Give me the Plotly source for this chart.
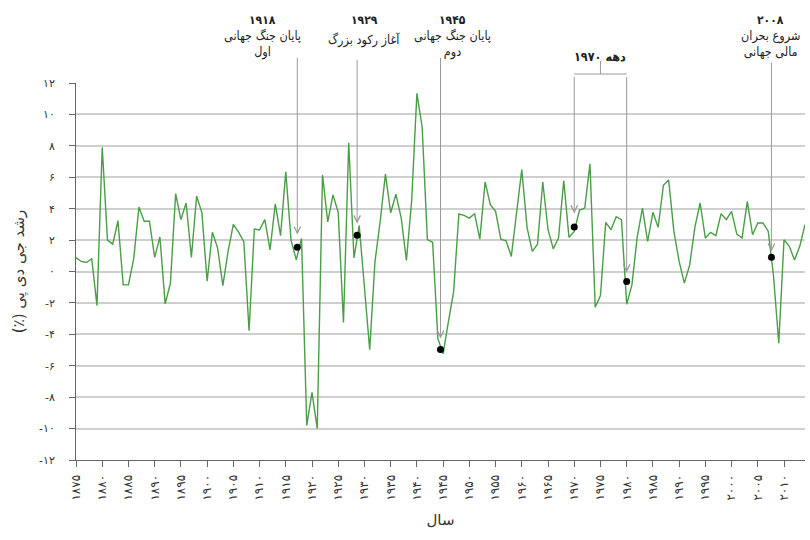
import plotly.graph_objects as go

# رشد سالانه تولید ناخالص داخلی (٪)، ۱۸۷۵ تا ۲۰۱۴
years = list(range(1875, 2015))
growth = [
    0.89, 0.64, 0.57, 0.81, -2.17, 7.9, 2.0, 1.74, 3.23, -0.85,
    -0.85, 0.8, 4.1, 3.2, 3.2, 0.9, 2.2, -2.06, -0.75, 4.96,
    3.3, 4.36, 0.9, 4.8, 3.75, -0.62, 2.5, 1.5, -0.9, 1.28,
    3.0, 2.5, 1.9, -3.77, 2.7, 2.64, 3.3, 1.38, 4.3, 2.28,
    6.34, 2.0, 0.74, 2.1, -9.8, -7.7, -10.0, 6.15, 3.16, 4.88,
    3.76, -3.25, 8.2, 0.86, 2.93, -1.0, -4.98, 0.6, 3.2, 6.2,
    3.74, 4.92, 3.42, 0.7, 4.5, 11.34, 9.2, 2.03, 1.86, -4.28,
    -5.24, -3.2, -1.3, 3.66, 3.57, 3.4, 3.68, 2.06, 5.7, 4.26,
    3.83, 2.06, 1.96, 0.96, 3.83, 6.49, 2.81, 1.28, 1.74, 5.7,
    2.66, 1.45, 2.13, 5.79, 2.17, 2.55, 3.9, 4.04, 6.85, -2.28,
    -1.53, 3.13, 2.66, 3.49, 3.3, -2.09, -0.85, 2.17, 4.04, 1.91,
    3.77, 2.81, 5.49, 5.83, 2.55, 0.64, -0.74, 0.4, 2.81, 4.36,
    2.13, 2.49, 2.28, 3.68, 3.3, 3.83, 2.38, 2.13, 4.47, 2.34,
    3.09, 3.09, 2.55, -0.3, -4.57, 2.02, 1.6, 0.74, 1.6, 2.98,
]

x_ticks = list(range(1875, 2011, 5))
x_tick_labels = [
    "۱۸۷۵", "۱۸۸۰", "۱۸۸۵", "۱۸۹۰", "۱۸۹۵", "۱۹۰۰", "۱۹۰۵", "۱۹۱۰",
    "۱۹۱۵", "۱۹۲۰", "۱۹۲۵", "۱۹۳۰", "۱۹۳۵", "۱۹۴۰", "۱۹۴۵", "۱۹۵۰",
    "۱۹۵۵", "۱۹۶۰", "۱۹۶۵", "۱۹۷۰", "۱۹۷۵", "۱۹۸۰", "۱۹۸۵", "۱۹۹۰",
    "۱۹۹۵", "۲۰۰۰", "۲۰۰۵", "۲۰۱۰",
]
y_ticks = [12, 10, 8, 6, 4, 2, 0, -2, -4, -6, -8, -10, -12]
y_tick_labels = ["۱۲", "۱۰", "۸", "۶", "۴", "۲", "۰",
                 "-۲", "-۴", "-۶", "-۸", "-۱۰", "-۱۲"]

# رویدادها
event_years = ["۱۹۱۸", "۱۹۲۹", "۱۹۴۵", "۲۰۰۸"]
event_texts = ["پایان جنگ جهانی<br>اول", "آغاز رکود بزرگ",
               "پایان جنگ جهانی<br>دوم", "شروع بحران<br>مالی جهانی"]
event_x = [1917.2, 1928.6, 1944.5, 2007.6]
event_label_x = [1910.5, 1930.0, 1946.8, 2007.4]
event_arrow_top = [13.7, 13.55, 13.7, 13.4]
event_arrow_tip = [2.35, 3.06, -4.27, 1.27]
event_dot = [1.55, 2.3, -4.97, 0.9]

decade_label = "دهه ۱۹۷۰"
decade_x = [1970.0, 1980.0]
decade_arrow_tip = [3.7, -0.06]
decade_dot = [2.83, -0.64]
decade_top = 12.48

font = "DejaVu Sans"
cond = "DejaVu Sans Condensed, DejaVu Sans"
GRAY = "#9a9a9a"

fig = go.Figure()
fig.add_trace(go.Scatter(x=years, y=growth, mode="lines",
                         line=dict(color="#4a9e46", width=1.4),
                         hoverinfo="skip", showlegend=False))
fig.add_trace(go.Scatter(x=event_x + decade_x, y=event_dot + decade_dot,
                         mode="markers", marker=dict(color="black", size=7),
                         hoverinfo="skip", showlegend=False, cliponaxis=False))

annotations = []
for yr, txt, x, lx, top, tip, in zip(event_years, event_texts, event_x,
                                      event_label_x, event_arrow_top, event_arrow_tip):
    annotations.append(dict(x=x, y=tip, ax=x, ay=top, xref="x", yref="y",
                            axref="x", ayref="y", text="", showarrow=True,
                            arrowhead=5, arrowsize=1.3, arrowwidth=1,
                            arrowcolor=GRAY, standoff=0))
    annotations.append(dict(x=lx, y=1.19, xref="x", yref="paper",
                            text="<b>" + yr + "</b>", showarrow=False,
                            font=dict(family=cond, size=12, color="#222")))
    one_line = "<br>" not in txt
    annotations.append(dict(x=lx, y=1.114 if one_line else 1.150, xref="x",
                            yref="paper", yanchor="middle" if one_line else "top",
                            text=txt, showarrow=False,
                            font=dict(family=cond, size=12.5, color="#222")))

for x, tip in zip(decade_x, decade_arrow_tip):
    annotations.append(dict(x=x, y=tip, ax=x, ay=decade_top, xref="x", yref="y",
                            axref="x", ayref="y", text="", showarrow=True,
                            arrowhead=5, arrowsize=1.3, arrowwidth=1,
                            arrowcolor=GRAY, standoff=0))
annotations.append(dict(x=sum(decade_x) / 2, y=1.0955, xref="x", yref="paper",
                        text="<b>" + decade_label + "</b>", showarrow=False,
                        font=dict(family=cond, size=12.5, color="#222")))

mid = sum(decade_x) / 2
shapes = [
    dict(type="line", xref="x", yref="paper", x0=decade_x[0], x1=decade_x[1],
         y0=1.0239, y1=1.0239, line=dict(color=GRAY, width=1)),
    dict(type="line", xref="x", yref="paper", x0=mid, x1=mid,
         y0=1.0239, y1=1.0584, line=dict(color=GRAY, width=1)),
]

fig.update_layout(
    width=810, height=540, autosize=False,
    margin=dict(l=76, r=5, t=83, b=80),
    plot_bgcolor="white", paper_bgcolor="white",
    font=dict(family=font, size=11, color="#333"),
    annotations=annotations, shapes=shapes,
    xaxis=dict(range=[1875, 2014], tickvals=x_ticks, ticktext=x_tick_labels,
               tickangle=-90, ticks="outside", ticklen=6, tickcolor="#666",
               showline=True, linecolor="#666", linewidth=1, showgrid=False,
               zeroline=False, tickfont=dict(size=12, color="#333"),
               ticklabelstandoff=3,
               title=dict(text="سال", font=dict(size=15, color="#333"), standoff=14)),
    yaxis=dict(range=[-12, 12], tickvals=y_ticks, ticktext=y_tick_labels,
               ticks="outside", ticklen=6, tickcolor="#666",
               showline=True, linecolor="#666", linewidth=1,
               showgrid=True, gridcolor="#cfcfcf", gridwidth=1.5,
               zeroline=False, tickfont=dict(size=11, color="#333"),
               ticklabelstandoff=12,
               title=dict(text="رشد جی دی پی (٪)\u200f",
                          font=dict(size=15, color="#333"), standoff=10)),
)

fig.write_html("out.html", config={"displayModeBar": False},
               post_script="document.body.style.margin='0';")
